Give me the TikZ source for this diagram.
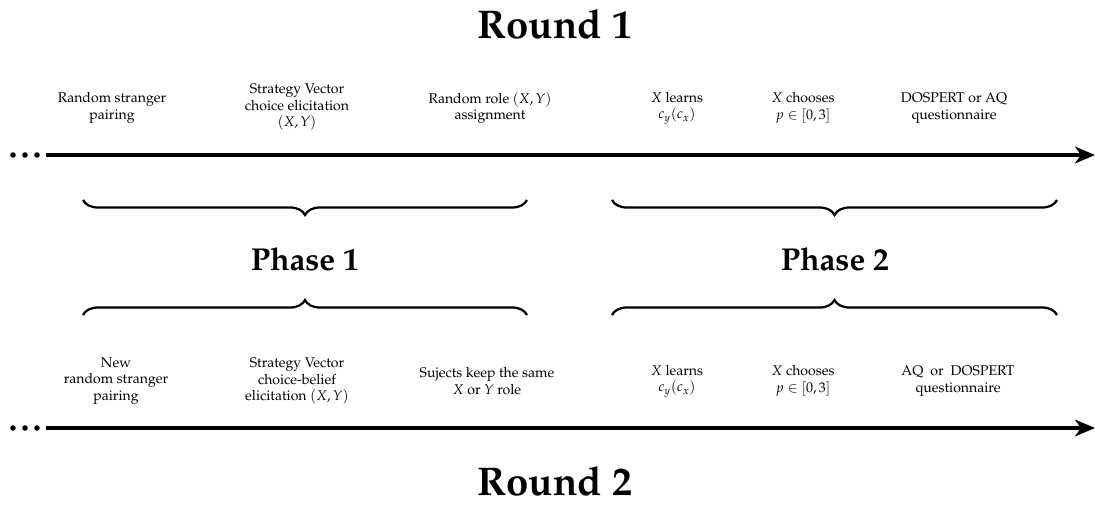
\documentclass[tikz,border=0pt]{standalone}
\usepackage[T1]{fontenc}
\usepackage{mathpazo}
\usepackage{tikz}
\usetikzlibrary{arrows.meta,positioning,decorations.pathreplacing}

\begin{document}
\begin{tikzpicture}[x=0.025cm, y=-0.025cm,
    stage/.style={align=center, inner sep=0pt},
    roundtitle/.style={font=\fontsize{28.5}{34}\selectfont\bfseries, anchor=base, inner sep=0pt},
    phasetitle/.style={font=\fontsize{22.5}{27}\selectfont\bfseries, anchor=base, inner sep=0pt},
    timeline/.style={-{Stealth[length=0.5cm, width=0.42cm, inset=0.15cm]}, line width=2.3pt},
    phasebrace/.style={decorate, decoration={brace, amplitude=0.375cm}, line width=1.6pt}
]
    \useasboundingbox (0,0) rectangle (1095,506);

    % titles
    \node[roundtitle] (round1) at (555,38) {Round 1};
    \node[roundtitle] (round2) at (555,495) {Round 2};
    \node[phasetitle] (phase1) at (305,270) {Phase 1};
    \node[phasetitle] (phase2) at (835,270) {Phase 2};

    % round 1 stages
    \node[stage] (pairA) at (112,108) {Random stranger\\pairing};
    \node[stage] (elicitA) at (297,107) {Strategy Vector\\choice elicitation\\$(X,Y)$};
    \node[stage] (roleA) at (490,108) {Random role $(X,Y)$\\assignment};
    \node[stage] (learnA) at (677,108) {$X$ learns\\$c_y(c_x)$};
    \node[stage] (chooseA) at (803,108) {$X$ chooses\\$p\in[0,3]$};
    \node[stage] (questA) at (954,108) {DOSPERT or AQ\\questionnaire};

    % round 2 stages
    \node[stage] (pairB) at (116,381) {New\\random stranger\\pairing};
    \node[stage] (elicitB) at (297,381) {Strategy Vector\\choice-belief\\elicitation $(X,Y)$};
    \node[stage] (roleB) at (487,381) {Sujects keep the same\\$X$ or $Y$ role};
    \node[stage] (learnB) at (677,381) {$X$ learns\\$c_y(c_x)$};
    \node[stage] (chooseB) at (803,381) {$X$ chooses\\$p\in[0,3]$};
    \node[stage] (questB) at (958,381) {AQ~ or~ DOSPERT\\questionnaire};

    % timelines
    \foreach \y/\t in {155/A, 428/B} {
        \foreach \x in {13,25,37}
            \fill (\x,\y) circle (2.8);
        \coordinate (start\t) at (46,\y);
        \coordinate (end\t) at (1095,\y);
        \draw[timeline] (start\t) -- (end\t);
    }

    % phase braces
    \coordinate (braceA1) at (83,200);
    \coordinate (braceA2) at (527,200);
    \coordinate (braceB1) at (612,200);
    \coordinate (braceB2) at (1057,200);
    \coordinate (braceC1) at (83,315);
    \coordinate (braceC2) at (527,315);
    \coordinate (braceD1) at (612,315);
    \coordinate (braceD2) at (1057,315);
    \draw[phasebrace] (braceA2) -- (braceA1);
    \draw[phasebrace] (braceB2) -- (braceB1);
    \draw[phasebrace] (braceC1) -- (braceC2);
    \draw[phasebrace] (braceD1) -- (braceD2);
\end{tikzpicture}
\end{document}
